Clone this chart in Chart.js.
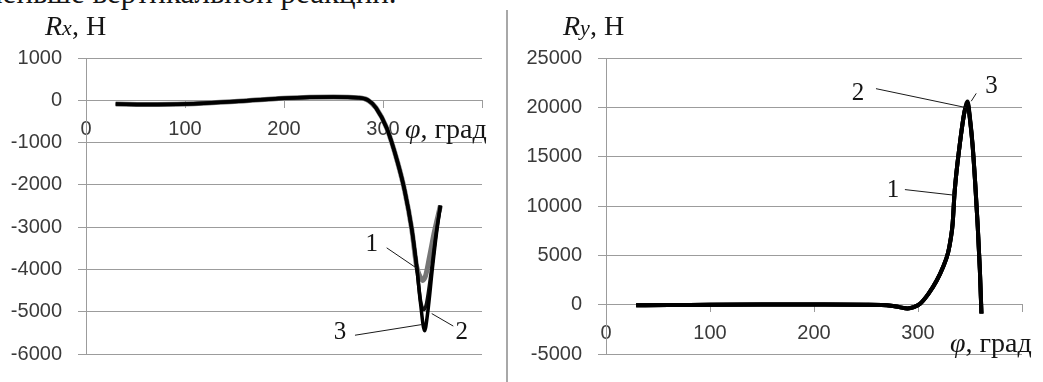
<!DOCTYPE html>
<html>
<head>
<meta charset="utf-8">
<script src="https://cdn.jsdelivr.net/npm/chart.js@4/dist/chart.umd.min.js"></script>
<style>
  body { margin: 0; background: #fff; width: 1043px; height: 382px; overflow: hidden; position: relative; font-family: "Liberation Serif", serif; }
  .box { position: absolute; top: 0; }
  .t { position: absolute; white-space: nowrap; color: #151515; font-size: 28px; line-height: 1; }
  .sep { position: absolute; left: 506px; top: 10px; width: 2px; height: 372px; background: #a8a8a8; }
</style>
</head>
<body>
<div class="t" style="left:-17px; top:-23px; font-size:31px;">меньше вертикальной реакции.</div>

<div class="box" style="left:0; width:507px; height:382px;"><canvas id="rxChart" width="507" height="382"></canvas></div>
<div class="sep"></div>
<div class="box" style="left:507px; width:536px; height:382px;"><canvas id="ryChart" width="536" height="382"></canvas></div>

<div class="t" style="left:45px; top:12px;"><i>R<span style="font-size:22px">x</span></i>, Н</div>
<div class="t" style="left:563px; top:12px;"><i>R<span style="font-size:22px">y</span></i>, Н</div>
<div class="t" style="left:405px; top:115px;"><i>φ</i>, град</div>
<div class="t" style="left:950px; top:329px;"><i>φ</i>, град</div>

<script>
// axis ticks
const angleTicks = [0, 100, 200, 300, 400];
const rxTicks = [1000, 0, -1000, -2000, -3000, -4000, -5000, -6000];
const ryTicks = [25000, 20000, 15000, 10000, 5000, 0, -5000];

// Rx: common part of the three curves
const rxAngleCommon = [30, 60, 100, 150, 200, 250, 275, 285, 293, 304, 315, 322, 329, 334];
const rxCommon = [-90, -100, -90, -30, 50, 80, 60, 0, -180, -670, -1490, -2150, -3040, -3930];
// Rx: where they split near the minimum
const rxAngle1 = [337, 340, 343, 347, 352, 358];
const rxTail1 = [-4150, -4260, -4150, -3700, -3100, -2490];
const rxAngle2 = [338, 341, 344, 349, 353, 358];
const rxTail2 = [-4750, -4950, -4800, -4000, -3250, -2490];
const rxAngle3 = [338, 342, 345, 350, 354, 358];
const rxTail3 = [-4820, -5450, -5050, -3950, -3150, -2490];

// Ry: common part
const ryAngleCommon = [29, 60, 100, 150, 200, 250, 274, 282, 290, 296, 302, 310, 318, 324, 329, 331.5, 333.3, 335.2, 340, 344.8];
const ryCommon = [-50, -40, -10, 10, 20, 0, -100, -250, -380, -250, 100, 1100, 2450, 3800, 5300, 6700, 8200, 11400, 16100, 19600];
// Ry: peak and fall
const ryAngleTail = [347.6, 350, 352.5, 355, 357.3, 359.5, 361];
const ryTail1 = [20300, 18700, 16100, 12300, 8200, 3500, -900];
const ryTail2 = [20450, 18800, 16150, 12300, 8200, 3500, -900];
const ryTail3 = [20600, 18900, 16200, 12350, 8200, 3500, -900];

// curve labels: text point and leader line, in data units
const rxLabels = [
  { text: "1", at: [288.6, -3415], from: [303.7, -3489], to: [334, -3971] },
  { text: "3", at: [256.6, -5489], from: [271.7, -5556], to: [339.1, -5304] },
  { text: "2", at: [379.5, -5489], from: [371, -5340], to: [349.2, -5044] }
];
const ryLabels = [
  { text: "2", at: [242.3, 21414], from: [259.6, 21892], to: [345.8, 19980] },
  { text: "3", at: [370.7, 22084], from: [356, 21414], to: [351.2, 20620] },
  { text: "1", at: [275.9, 11568], from: [287.4, 11663], to: [335.2, 11090] }
];

function toPoints(xs, ys) {
  return xs.map((x, i) => ({ x: x, y: ys[i] }));
}

const tickFont = { family: "Liberation Sans", size: 20 };
const tickColor = "#3a3a3a";
const gridColor = "#9c9c9c";

// draws the 1/2/3 numbers with thin leader lines
const leaderPlugin = {
  id: "leaders",
  afterDatasetsDraw(chart, args, opts) {
    const ctx = chart.ctx;
    const xs = chart.scales.x;
    const ys = chart.scales.y;
    ctx.save();
    ctx.strokeStyle = "#1a1a1a";
    ctx.lineWidth = 1;
    ctx.fillStyle = "#151515";
    ctx.font = '25px "Liberation Serif"';
    ctx.textAlign = "center";
    ctx.textBaseline = "middle";
    opts.items.forEach(function (a) {
      ctx.beginPath();
      ctx.moveTo(xs.getPixelForValue(a.from[0]), ys.getPixelForValue(a.from[1]));
      ctx.lineTo(xs.getPixelForValue(a.to[0]), ys.getPixelForValue(a.to[1]));
      ctx.stroke();
      ctx.fillText(a.text, xs.getPixelForValue(a.at[0]), ys.getPixelForValue(a.at[1]));
    });
    ctx.restore();
  }
};

function makeChart(id, datasets, yTicks, axisWidth, rightPad, labels) {
  return new Chart(id, {
    type: "line",
    data: { datasets: datasets },
    plugins: [leaderPlugin],
    options: {
      responsive: false,
      animation: false,
      events: [],
      layout: { padding: { top: 58, right: rightPad, bottom: 10, left: 0 } },
      elements: { point: { radius: 0 } },
      plugins: {
        legend: { display: false },
        tooltip: { enabled: false },
        leaders: { items: labels }
      },
      scales: {
        x: {
          type: "linear",
          min: angleTicks[0],
          max: angleTicks[angleTicks.length - 1],
          position: { y: 0 },
          afterFit: function (s) { s.height = 0; },
          afterBuildTicks: function (s) { s.ticks = angleTicks.map(v => ({ value: v })); },
          ticks: {
            callback: v => (v === 400 ? "" : String(v)),
            font: tickFont,
            color: tickColor,
            padding: 10,
            maxRotation: 0,
            autoSkip: false
          },
          grid: { drawOnChartArea: false, tickLength: 7, color: gridColor },
          border: { color: gridColor }
        },
        y: {
          min: yTicks[yTicks.length - 1],
          max: yTicks[0],
          afterFit: function (s) { s.width = axisWidth; },
          afterBuildTicks: function (s) { s.ticks = yTicks.map(v => ({ value: v })); },
          ticks: { callback: v => String(v), font: tickFont, color: tickColor, padding: 16 },
          grid: { color: gridColor, tickLength: 8 },
          border: { color: gridColor }
        }
      }
    }
  });
}

function curve(points, color, width, order) {
  return {
    data: points,
    borderColor: color,
    borderWidth: width,
    cubicInterpolationMode: "monotone",
    order: order,
    fill: false
  };
}

makeChart("rxChart", [
  curve(toPoints(rxAngleCommon.concat(rxAngle1), rxCommon.concat(rxTail1)), "#767676", 5, 3),
  curve(toPoints(rxAngleCommon.concat(rxAngle2), rxCommon.concat(rxTail2)), "#111", 3.5, 2),
  curve(toPoints(rxAngleCommon.concat(rxAngle3), rxCommon.concat(rxTail3)), "#000", 3.5, 1)
], rxTicks, 86, 25, rxLabels);

makeChart("ryChart", [
  curve(toPoints(ryAngleCommon.concat(ryAngleTail), ryCommon.concat(ryTail1)), "#000", 4, 3),
  curve(toPoints(ryAngleCommon.concat(ryAngleTail), ryCommon.concat(ryTail2)), "#000", 4, 2),
  curve(toPoints(ryAngleCommon.concat(ryAngleTail), ryCommon.concat(ryTail3)), "#000", 4, 1)
], ryTicks, 99, 21, ryLabels);
</script>
</body>
</html>
